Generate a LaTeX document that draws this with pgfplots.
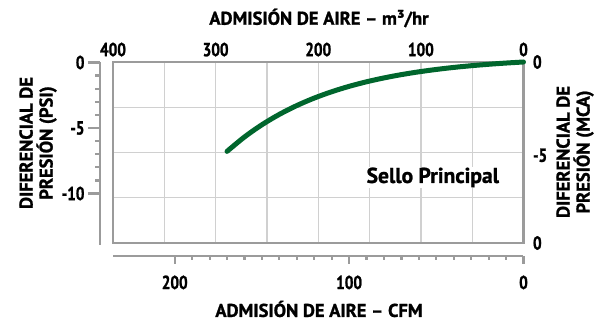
\documentclass[border=0pt]{standalone}
\usepackage{pgfplots}
\pgfplotsset{compat=1.18}
\usepackage{fontspec}
\setmainfont{PT Sans}
\newfontfamily\narrowfont{PT Sans Bold}[FakeStretch=0.8, FakeBold=1.2]
\newfontfamily\labfont{PT Sans Bold}[FakeBold=1.2]
\definecolor{boxgray}{RGB}{155,155,155}
\definecolor{gridgray}{RGB}{208,208,208}
\definecolor{curvegreen}{RGB}{0,102,45}
\newcommand{\tickfont}{\narrowfont\fontsize{19}{19}\selectfont}
\newcommand{\titlefont}{\labfont\fontsize{18.5}{20}\selectfont}
\begin{document}
\begin{tikzpicture}[x=1pt,y=1pt]
\useasboundingbox (0,0) rectangle (605,323);
% main box with grid and curve
\begin{axis}[at={(113pt,80pt)}, anchor=south west, scale only axis,
  width=410.5pt, height=181pt,
  xmin=0, xmax=235.4, x dir=reverse, ymin=-13.8, ymax=0,
  xtick={29.43,58.86,88.29,117.72,147.15,176.58,206.01},
  ytick={-3.45,-6.9,-10.35},
  xticklabels={}, yticklabels={},
  major tick length=0pt,
  grid=major, grid style={draw=gridgray, line width=1.3pt},
  axis line style={draw=boxgray, line width=2.7pt},
  clip=false]
\addplot[curvegreen, line width=5pt, line cap=round, smooth] coordinates {
  (0,0) (10,-0.080) (20,-0.174) (30,-0.284) (40,-0.414) (50,-0.568)
  (60,-0.749) (70,-0.962) (80,-1.213) (90,-1.509) (100,-1.857)
  (110,-2.268) (120,-2.751) (130,-3.321) (140,-3.993) (150,-4.784)
  (160,-5.716) (170,-6.813)};
\node[fill=white, inner sep=1pt, font=\labfont\fontsize{21.5}{21.5}\selectfont]
  at (axis cs:52,-8.8) {Sello Principal};
\end{axis}
% bottom CFM axis
\begin{axis}[at={(113pt,67pt)}, anchor=south west, scale only axis,
  width=410.5pt, height=10pt,
  xmin=0, xmax=235.4, x dir=reverse, ymin=0, ymax=1,
  axis x line*=bottom, axis y line=none,
  xtick={0,100,200}, xticklabels={0,100,200},
  minor xtick={10,20,...,190},
  tick align=outside, major tick length=8pt, minor tick length=4pt,
  tick style={draw=boxgray, line width=2.2pt},
  axis line style={draw=boxgray, line width=2.7pt},
  xticklabel style={font=\tickfont, yshift=-8pt}]
\end{axis}
% left PSI axis
\begin{axis}[at={(100pt,78pt)}, anchor=south west, scale only axis,
  width=10pt, height=182.5pt,
  xmin=0, xmax=1, ymin=-13.93, ymax=0,
  axis y line*=left, axis x line=none,
  ytick={0,-5,-10}, yticklabels={0,-5,-10},
  minor ytick={-1,-2,-3,-4,-6,-7,-8,-9},
  tick align=outside, major tick length=12pt, minor tick length=5pt,
  tick style={draw=boxgray, line width=2.2pt},
  axis line style={draw=boxgray, line width=2.7pt},
  yticklabel style={font=\tickfont}]
\end{axis}
% right MCA labels
\begin{axis}[at={(113pt,80pt)}, anchor=south west, scale only axis,
  width=410.5pt, height=181pt,
  xmin=0, xmax=1, ymin=-9.70, ymax=0,
  axis y line*=right, axis x line=none,
  axis line style={draw=none},
  ytick={0,-5,-9.70}, yticklabels={0,-5,0},
  major tick length=0pt,
  yticklabel style={font=\tickfont, xshift=6pt}]
\end{axis}
% top m3/hr labels
\begin{axis}[at={(113pt,80pt)}, anchor=south west, scale only axis,
  width=410.5pt, height=181pt,
  xmin=0, xmax=400, x dir=reverse, ymin=0, ymax=1,
  axis x line*=top, axis y line=none,
  axis line style={draw=none},
  xtick={0,100,200,300,400}, xticklabels={0,100,200,300,400},
  major tick length=0pt,
  xticklabel style={font=\tickfont, yshift=2pt}]
\end{axis}
% axis titles
\node[font=\titlefont] at (319,305) {ADMISIÓN DE AIRE – m³/hr};
\node[font=\titlefont] at (319,14) {ADMISIÓN DE AIRE – CFM};
\node[font=\titlefont, rotate=90, align=center] at (38,180) {DIFERENCIAL DE\\PRESIÓN (PSI)};
\node[font=\titlefont, rotate=90, align=center] at (575,171) {DIFERENCIAL DE\\PRESIÓN (MCA)};
\end{tikzpicture}
\end{document}
